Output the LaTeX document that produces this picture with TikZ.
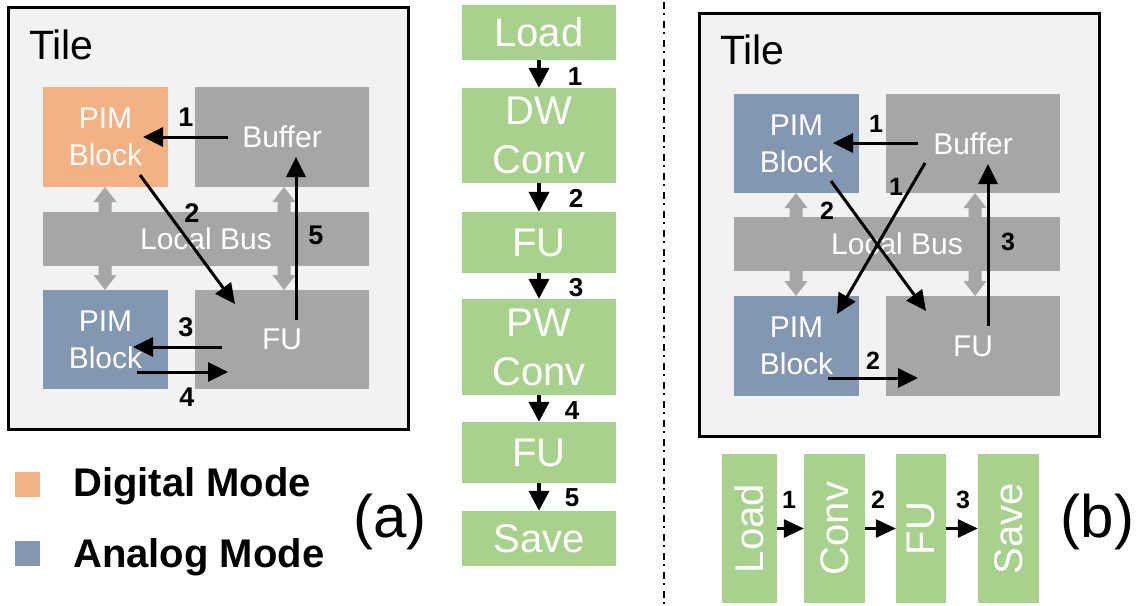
\documentclass[tikz,border=0pt]{standalone}
\usepackage{fontspec}
\usepackage{graphicx}
\setmainfont{Liberation Sans}
\usetikzlibrary{arrows.meta}
\definecolor{cOrange}{HTML}{F4B183}
\definecolor{cBlue}{HTML}{8497B0}
\definecolor{cGray}{HTML}{A6A6A6}
\definecolor{cGreen}{HTML}{A9D18E}
\definecolor{cTile}{HTML}{F2F2F2}
\newcommand\fsz[2]{\fontsize{#1}{#2}\selectfont}
\newcommand\garrow[3]{\fill[cGray] (#1,#2) -- ++(11.5,15) -- ++(-5,0) -- (#1+6.5,#3-15) -- ++(5,0) -- (#1,#3) -- ++(-11.5,-15) -- ++(5,0) -- (#1-6.5,#2+15) -- ++(-5,0) -- cycle;}
\begin{document}
\begin{tikzpicture}[x=1pt,y=-1pt,
  tile/.style={draw=black, line width=3pt, fill=cTile, inner sep=0pt},
  blk/.style={inner sep=0pt, text=white, align=center, font=\fsz{30}{37}},
  flow/.style={fill=cGreen, inner sep=0pt, text=white, align=center, font=\fsz{40}{49}, minimum width=154pt},
  bflow/.style={fill=cGreen, inner sep=0pt, text=white, font=\fsz{40}{40}, minimum height=149pt},
  arr/.style={line width=3pt, -{Triangle[length=20pt,width=19pt]}},
  arrs/.style={line width=4pt, -{Triangle[length=20pt,width=20pt]}},
  arrb/.style={line width=3pt, -{Triangle[length=20pt,width=18pt]}},
  num/.style={font=\bfseries\fsz{27}{27}, inner sep=0pt},
  nums/.style={font=\bfseries\fsz{26}{26}, inner sep=0pt},
  numr/.style={font=\bfseries\fsz{25}{25}, inner sep=0pt},
  lbl/.style={inner sep=0pt, anchor=base west},
]
\useasboundingbox[fill=white] (0,0) rectangle (1147,605);

% ---------------- (a) tile ----------------
\node[tile, minimum width=400pt, minimum height=422.5pt] (tileA) at (208.8,218.3) {};
\node[lbl, font=\fsz{41}{41}] (tileAt) at (29,59) {Tile};
\node[blk, fill=cOrange, minimum width=125pt, minimum height=100pt] (pimA1) at (105.5,137) {PIM\\Block};
\node[blk, fill=cGray, minimum width=174pt, minimum height=100pt] (bufA) at (282,137) {Buffer};
\node[blk, fill=cGray, minimum width=326pt, minimum height=54pt] (busA) at (206,239) {Local Bus};
\node[blk, fill=cBlue, minimum width=125pt, minimum height=99pt] (pimA2) at (105.5,339.5) {PIM\\Block};
\node[blk, fill=cGray, minimum width=174pt, minimum height=99pt] (fuA) at (282,339.5) {FU};
\garrow{105}{187}{290}
\garrow{284}{187}{290}
\coordinate (a1s) at (228,137); \coordinate (a1e) at (143,137);
\coordinate (a2s) at (140,175); \coordinate (a2e) at (235,304);
\coordinate (a3s) at (222,347); \coordinate (a3e) at (133,347);
\coordinate (a4s) at (137,372); \coordinate (a4e) at (228,372);
\coordinate (a5s) at (296,320); \coordinate (a5e) at (296,157);
\draw[arr] (a1s) -- (a1e);
\draw[arr] (a2s) -- (a2e);
\draw[arr] (a3s) -- (a3e);
\draw[arr] (a4s) -- (a4e);
\draw[arr] (a5s) -- (a5e);
\node[num] (na1) at (186,117) {1};
\node[num] (na2) at (192,213) {2};
\node[num] (na3) at (186,327) {3};
\node[num] (na4) at (187,397) {4};
\node[num] (na5) at (316,235) {5};

% legend
\node[fill=cOrange, minimum size=25pt, inner sep=0pt] (lgO) at (27.5,484.5) {};
\node[fill=cBlue, minimum size=25pt, inner sep=0pt] (lgB) at (27.5,553.5) {};
\node[lbl, font=\bfseries\fsz{40}{40}] (lgOt) at (73,496) {Digital Mode};
\node[lbl, font=\bfseries\fsz{40}{40}] (lgBt) at (73,567) {Analog Mode};
\node[inner sep=0pt, anchor=base, font=\fsz{60}{60}] (capA) at (390,537) {(a)};

% ---------------- middle flow ----------------
\node[flow, minimum height=55pt] (m1) at (539,32.5) {Load};
\node[flow, minimum height=95pt] (m2) at (539,135.5) {DW\\Conv};
\node[flow, minimum height=61pt] (m3) at (539,242.5) {FU};
\node[flow, minimum height=96pt] (m4) at (539,347) {PW\\Conv};
\node[flow, minimum height=61pt] (m5) at (539,452.5) {FU};
\node[flow, minimum height=55pt] (m6) at (539,538.5) {Save};
\draw[arrs] (m1) -- (m2);
\draw[arrs] (m2) -- (m3);
\draw[arrs] (m3) -- (m4);
\draw[arrs] (m4) -- (m5);
\draw[arrs] (m5) -- (m6);
\node[nums] (nm1) at (575,76.5) {1};
\node[nums] (nm2) at (576,198.5) {2};
\node[nums] (nm3) at (576,288) {3};
\node[nums] (nm4) at (572,410.5) {4};
\node[nums] (nm5) at (572,498) {5};

% separator
\coordinate (sepT) at (663.7,2);
\coordinate (sepB) at (663.7,605);
\draw[line width=2pt, dash pattern=on 7pt off 4pt on 2pt off 6pt] (sepT) -- (sepB);

% ---------------- (b) tile ----------------
\node[tile, minimum width=399.5pt, minimum height=423pt] (tileB) at (899.25,224.5) {};
\node[lbl, font=\fsz{41}{41}] (tileBt) at (720,64) {Tile};
\node[blk, fill=cBlue, minimum width=125pt, minimum height=99pt] (pimB1) at (796.5,143.5) {PIM\\Block};
\node[blk, fill=cGray, minimum width=174pt, minimum height=99pt] (bufB) at (973,143.5) {Buffer};
\node[blk, fill=cGray, minimum width=326pt, minimum height=54pt] (busB) at (897,244) {Local Bus};
\node[blk, fill=cBlue, minimum width=125pt, minimum height=100pt] (pimB2) at (796.5,346) {PIM\\Block};
\node[blk, fill=cGray, minimum width=174pt, minimum height=100pt] (fuB) at (973,346) {FU};
\garrow{796}{193}{296}
\garrow{975}{193}{296}
\coordinate (b1s) at (918,143); \coordinate (b1e) at (833,143);
\coordinate (b1ds) at (925,163); \coordinate (b1de) at (837,314);
\coordinate (b2ds) at (831,181); \coordinate (b2de) at (926,311);
\coordinate (b2s) at (828,378); \coordinate (b2e) at (918,378);
\coordinate (b3s) at (988,326); \coordinate (b3e) at (988,164);
\draw[arr] (b1s) -- (b1e);
\draw[arr] (b1ds) -- (b1de);
\draw[arr] (b2ds) -- (b2de);
\draw[arr] (b2s) -- (b2e);
\draw[arr] (b3s) -- (b3e);
\node[numr] (nb1) at (876,124) {1};
\node[numr] (nb1d) at (896,187) {1};
\node[numr] (nb2d) at (827,211) {2};
\node[numr] (nb2) at (873,361) {2};
\node[numr] (nb3) at (1008,242) {3};

% bottom flow
\node[bflow, minimum width=55pt] (f1) at (749.5,528.5) {\rotatebox{90}{Load}};
\node[bflow, minimum width=61pt] (f2) at (834.5,528.5) {\rotatebox{90}{Conv}};
\node[bflow, minimum width=50pt] (f3) at (921,528.5) {\rotatebox{90}{FU}};
\node[bflow, minimum width=61pt] (f4) at (1008.5,528.5) {\rotatebox{90}{Save}};
\draw[arrb] (f1) -- (f2);
\draw[arrb] (f2) -- (f3);
\draw[arrb] (f3) -- (f4);
\node[numr] (nf1) at (789,500) {1};
\node[numr] (nf2) at (878,500) {2};
\node[numr] (nf3) at (963,500) {3};
\node[inner sep=0pt, anchor=base, font=\fsz{60}{60}] (capB) at (1097.5,537) {(b)};
\end{tikzpicture}
\end{document}
